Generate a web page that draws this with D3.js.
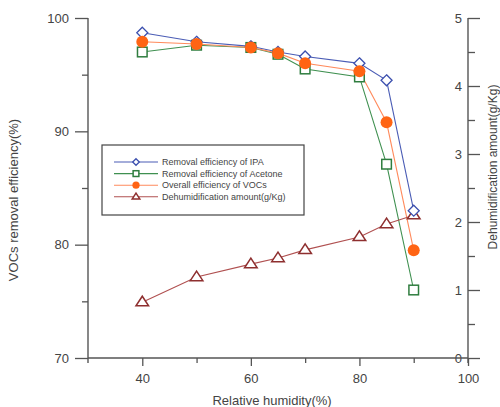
<!DOCTYPE html>
<html><head><meta charset="utf-8">
<script src="https://cdn.jsdelivr.net/npm/d3@7/dist/d3.min.js"></script>
<style>body{margin:0;background:#fff}svg{font-family:"Liberation Sans",Arial,sans-serif}</style>
</head><body><svg id="c" width="500" height="407"></svg>
<script>
const humidity = [40, 50, 60, 65, 70, 80, 85, 90];
const ipa = [98.7, 97.9, 97.5, 97.0, 96.6, 96.0, 94.5, 83.0];
const acetone = [97.0, 97.6, 97.4, 96.8, 95.5, 94.8, 87.1, 76.0];
const vocs = [97.9, 97.7, 97.4, 96.9, 96.0, 95.3, 90.8, 79.5];
const dehum = [0.82, 1.19, 1.38, 1.47, 1.59, 1.78, 1.97, 2.1];
const xTicks = [40, 60, 80, 100];
const yTicks = [70, 80, 90, 100];
const y2Ticks = [0, 1, 2, 3, 4, 5];
const legendLabels = ["Removal efficiency of IPA", "Removal efficiency of Acetone", "Overall efficiency of VOCs", "Dehumidification amount(g/Kg)"];

const svg = d3.select("#c");
const L = 88, R = 468, T = 18, B = 358;
const x = d3.scaleLinear().domain([30, 100]).range([L, R]);
const y = d3.scaleLinear().domain([70, 100]).range([B, T]);
const y2 = d3.scaleLinear().domain([0, 5]).range([B, T]);
const axisCol = "#555", txtCol = "#444";

// axes
const gx = svg.append("g").attr("transform", `translate(0,${B})`)
  .call(d3.axisBottom(x).tickValues(xTicks).tickSize(8).tickPadding(8).tickFormat(d3.format("d")));
gx.append("g").call(d3.axisBottom(x).tickValues([50, 70, 90]).tickSize(5).tickFormat(""));
const gy = svg.append("g").attr("transform", `translate(${L},0)`)
  .call(d3.axisLeft(y).tickValues(yTicks).tickSize(13).tickPadding(6));
gy.append("g").call(d3.axisLeft(y).tickValues([75, 85, 95]).tickSize(6).tickFormat(""));
const gy2 = svg.append("g").attr("transform", `translate(${R},0)`)
  .call(d3.axisRight(y2).tickValues(y2Ticks).tickSize(12).tickFormat(""));
gy2.append("g").call(d3.axisRight(y2).tickValues([0.5, 1.5, 2.5, 3.5, 4.5]).tickSize(7).tickFormat(""));
gy2.selectAll(".lbl").data(y2Ticks).enter().append("text").attr("class", "lbl")
  .attr("x", -6).attr("y", d => y2(d)).attr("dy", "0.35em").attr("text-anchor", "end")
  .attr("font-size", 13).attr("fill", txtCol).text(d => d);
[gx, gy, gy2].forEach(g => {
  g.selectAll(".domain").remove();
  g.selectAll("line").attr("stroke", axisCol).attr("stroke-width", 1.3);
  g.selectAll("text").attr("font-size", 13).attr("fill", txtCol).attr("font-family", "Liberation Sans, Arial, sans-serif");
});
// axis lines
svg.append("line").attr("x1", L).attr("x2", L).attr("y1", T).attr("y2", B + 5).attr("stroke", axisCol).attr("stroke-width", 1.4);
svg.append("line").attr("x1", R).attr("x2", R).attr("y1", T).attr("y2", B + 5).attr("stroke", axisCol).attr("stroke-width", 1.4);
svg.append("line").attr("x1", L).attr("x2", R).attr("y1", B).attr("y2", B).attr("stroke", axisCol).attr("stroke-width", 1.4);

// titles
svg.append("text").attr("transform", `translate(18,200) rotate(-90)`).attr("text-anchor", "middle")
  .attr("font-size", 13).attr("fill", txtCol).text("VOCs removal efficiency(%)");
svg.append("text").attr("transform", `translate(497,167) rotate(-90)`).attr("text-anchor", "middle")
  .attr("font-size", 12).attr("fill", txtCol).text("Dehumidification amount(g/Kg)");
svg.append("text").attr("x", 272).attr("y", 405).attr("text-anchor", "middle")
  .attr("font-size", 13).attr("fill", txtCol).text("Relative humidity(%)");

// series
const series = [
  {vals: ipa, sc: y, color: "#3b4fae", line: "#4a5cb5", shape: "diamond"},
  {vals: acetone, sc: y, color: "#2f7d3f", line: "#3f9050", shape: "square"},
  {vals: vocs, sc: y, color: "#ff6414", line: "#ff8a5c", shape: "circle"},
  {vals: dehum, sc: y2, color: "#8e2f2f", line: "#b05050", shape: "triangle"}
];
function marker(g, s, cx, cy, scale) {
  const k = scale || 1;
  if (s.shape === "diamond") {
    const r = 5.5 * k;
    g.append("path").attr("d", `M${cx},${cy - r}L${cx + r},${cy}L${cx},${cy + r}L${cx - r},${cy}Z`)
      .attr("fill", "#fff").attr("stroke", s.color).attr("stroke-width", 1.3);
  } else if (s.shape === "square") {
    const h = 4.8 * k;
    g.append("rect").attr("x", cx - h).attr("y", cy - h).attr("width", 2 * h).attr("height", 2 * h)
      .attr("fill", "#fff").attr("stroke", s.color).attr("stroke-width", 1.5);
  } else if (s.shape === "circle") {
    g.append("circle").attr("cx", cx).attr("cy", cy).attr("r", 6 * k).attr("fill", s.color);
  } else {
    const r = 6 * k;
    g.append("path").attr("d", `M${cx},${cy - r}L${cx + r * 1.05},${cy + r * 0.6}L${cx - r * 1.05},${cy + r * 0.6}Z`)
      .attr("fill", "#fff").attr("stroke", s.color).attr("stroke-width", 1.5);
  }
}
series.forEach(s => {
  const g = svg.append("g");
  g.append("path").datum(s.vals)
    .attr("d", d3.line().x((d, i) => x(humidity[i])).y(d => s.sc(d)))
    .attr("fill", "none").attr("stroke", s.line).attr("stroke-width", 1.1);
});
// draw markers with order: dehum, acetone, ipa, vocs
[3, 1, 0, 2].forEach(k => {
  const s = series[k];
  const g = svg.append("g");
  s.vals.forEach((d, i) => marker(g, s, x(humidity[i]), s.sc(d)));
});

// legend
const lg = svg.append("g");
lg.append("rect").attr("x", 102).attr("y", 145).attr("width", 202).attr("height", 70)
  .attr("fill", "#fff").attr("stroke", "#444").attr("stroke-width", 1.2);
legendLabels.forEach((t, i) => {
  const yy = 162 + i * 11.6;
  const s = series[i];
  lg.append("line").attr("x1", 114).attr("x2", 158).attr("y1", yy).attr("y2", yy).attr("stroke", s.line).attr("stroke-width", 1.1);
  marker(lg, s, 136, yy, 0.6);
  lg.append("text").attr("x", 162).attr("y", yy).attr("dy", "0.35em").attr("font-size", 9).attr("fill", txtCol).text(t);
});
</script></body></html>
